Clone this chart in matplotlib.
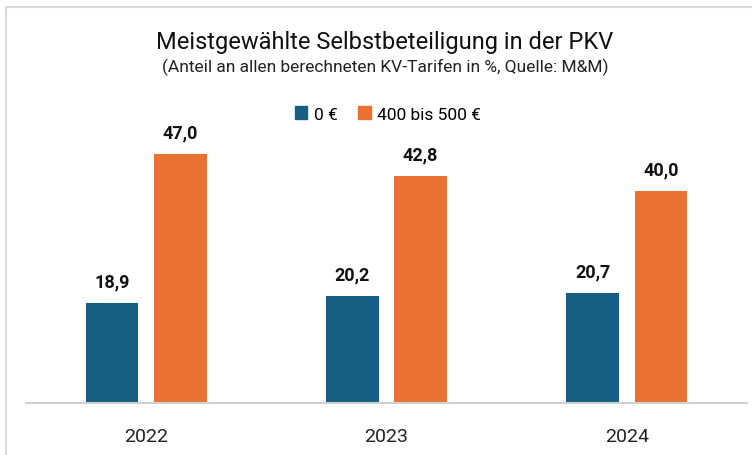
import matplotlib
matplotlib.use("Agg")
import matplotlib.pyplot as plt
import numpy as np
from matplotlib.lines import Line2D
from matplotlib.patches import Rectangle

years = ["2022", "2023", "2024"]
series_names = ["0 €", "400 bis 500 €"]
vals_0 = [18.9, 20.2, 20.7]
vals_400 = [47.0, 42.8, 40.0]

BLUE = "#156082"
ORANGE = "#E97132"
FONT = ["Roboto", "DejaVu Sans"]

plt.rcParams["font.family"] = FONT

fig = plt.figure(figsize=(7.52, 4.56), dpi=100)
ax = fig.add_axes([26 / 752, 1 - 404 / 456, 721 / 752, 291.5 / 456])

x = np.arange(len(years))
w = 0.22
off = 0.142
b1 = ax.bar(x - off, vals_0, w, color=BLUE)
b2 = ax.bar(x + off, vals_400, w, color=ORANGE)

for bars, vals in ((b1, vals_0), (b2, vals_400)):
    for r, v in zip(bars, vals):
        ax.annotate(f"{v:.1f}".replace(".", ","),
                    (r.get_x() + r.get_width() / 2, v),
                    xytext=(0, 9), textcoords="offset points",
                    ha="center", va="bottom", fontsize=13,
                    fontweight="bold", color="#111111")

ax.set_xlim(-0.5, 2.5)
ax.set_ylim(0, 55)
ax.set_yticks([])
ax.set_xticks(x)
ax.set_xticklabels(years, fontsize=14, color="#222222")
ax.tick_params(axis="x", length=0, pad=17)
for s in ("top", "right", "left"):
    ax.spines[s].set_visible(False)
ax.spines["bottom"].set_color("#d0d0d0")
ax.spines["bottom"].set_linewidth(1.5)

fig.text(385 / 752, 1 - 42 / 456, "Meistgewählte Selbstbeteiligung in der PKV",
         ha="center", va="center", fontsize=17, color="#111111")
fig.text(385 / 752, 1 - 67 / 456,
         "(Anteil an allen berechneten KV-Tarifen in %, Quelle: M&M)",
         ha="center", va="center", fontsize=12.5, color="#222222")

handles = [Rectangle((0, 0), 1, 1, color=BLUE), Rectangle((0, 0), 1, 1, color=ORANGE)]
fig.legend(handles, series_names, loc="center", bbox_to_anchor=(388 / 752, 1 - 115 / 456),
           ncol=2, frameon=False, fontsize=12.5, handlelength=0.7, handleheight=0.7,
           handletextpad=0.4, columnspacing=1.2)

# frame of the screenshot
fig.add_artist(Line2D([6 / 752, 1], [1 - 8 / 456, 1 - 8 / 456], color="#d9d9d9", lw=1.5))
fig.add_artist(Line2D([6 / 752, 6 / 752], [0, 1 - 8 / 456], color="#d9d9d9", lw=1.5))

fig.savefig("out.png", dpi=100)
